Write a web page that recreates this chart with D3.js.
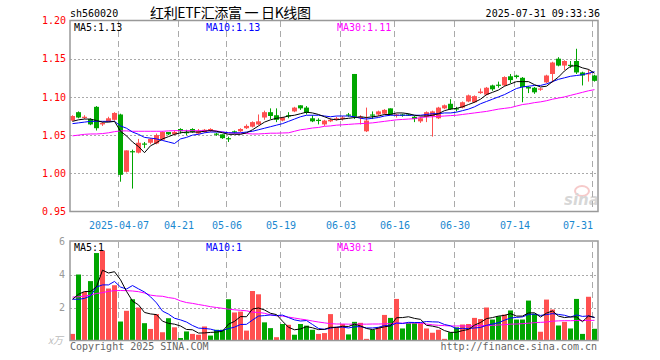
<!DOCTYPE html>
<html><head><meta charset="utf-8">
<script src="https://cdn.jsdelivr.net/npm/d3@7/dist/d3.min.js"></script>
<style>body{margin:0;background:#fff}svg{display:block}</style>
</head><body><svg id="c" width="660" height="360"></svg>
<script>
const dates = ["03-25","03-26","03-27","03-28","03-31","04-01","04-02","04-03","04-07","04-08",
"04-09","04-10","04-11","04-14","04-15","04-16","04-17","04-18","04-21","04-22",
"04-23","04-24","04-25","04-28","04-29","04-30","05-06","05-07","05-08","05-09",
"05-12","05-13","05-14","05-15","05-16","05-19","05-20","05-21","05-22","05-23",
"05-26","05-27","05-28","05-29","05-30","06-03","06-04","06-05","06-06","06-09",
"06-10","06-11","06-12","06-13","06-16","06-17","06-18","06-19","06-20","06-23",
"06-24","06-25","06-26","06-27","06-30","07-01","07-02","07-03","07-04","07-07",
"07-08","07-09","07-10","07-11","07-14","07-15","07-16","07-17","07-18","07-21",
"07-22","07-23","07-24","07-25","07-28","07-29","07-30","07-31"];
const open = [1.069,1.080,1.073,1.071,1.087,1.064,1.068,1.070,1.077,1.002,
1.029,1.027,1.039,1.040,1.039,1.044,1.054,1.051,1.058,1.054,
1.058,1.052,1.054,1.056,1.052,1.051,1.046,1.055,1.055,1.059,
1.061,1.064,1.073,1.080,1.076,1.069,1.076,1.081,1.089,1.086,
1.072,1.070,1.064,1.068,1.071,1.071,1.077,1.130,1.073,1.055,
1.077,1.077,1.078,1.085,1.076,1.077,1.077,1.074,1.068,1.074,
1.075,1.072,1.085,1.091,1.085,1.086,1.094,1.093,1.105,1.103,
1.115,1.116,1.115,1.127,1.128,1.125,1.113,1.112,1.110,1.119,
1.130,1.150,1.141,1.142,1.147,1.132,1.130,1.128];
const high = [1.076,1.081,1.076,1.072,1.088,1.067,1.074,1.080,1.078,1.030,
1.031,1.045,1.041,1.046,1.052,1.055,1.054,1.056,1.059,1.057,
1.059,1.058,1.058,1.059,1.053,1.051,1.048,1.056,1.059,1.064,
1.068,1.077,1.082,1.085,1.085,1.074,1.080,1.087,1.089,1.088,
1.076,1.072,1.070,1.072,1.074,1.075,1.079,1.130,1.076,1.086,
1.081,1.082,1.084,1.085,1.078,1.078,1.078,1.075,1.074,1.081,
1.082,1.087,1.090,1.097,1.087,1.094,1.103,1.102,1.111,1.113,
1.116,1.120,1.127,1.130,1.129,1.126,1.114,1.113,1.112,1.129,
1.146,1.152,1.148,1.147,1.163,1.133,1.136,1.129];
const low = [1.068,1.072,1.071,1.063,1.056,1.062,1.067,1.069,0.989,1.001,
0.980,1.026,1.033,1.038,1.038,1.043,1.050,1.050,1.052,1.050,
1.053,1.051,1.053,1.054,1.049,1.045,1.041,1.052,1.054,1.058,
1.060,1.063,1.070,1.071,1.067,1.068,1.072,1.080,1.083,1.077,
1.067,1.064,1.062,1.067,1.069,1.069,1.074,1.071,1.064,1.054,
1.071,1.075,1.077,1.076,1.073,1.074,1.075,1.067,1.066,1.067,
1.048,1.071,1.084,1.083,1.081,1.085,1.093,1.092,1.104,1.102,
1.108,1.112,1.114,1.118,1.124,1.093,1.105,1.104,1.108,1.118,
1.119,1.140,1.135,1.138,1.130,1.115,1.120,1.120];
const close = [1.075,1.073,1.074,1.064,1.059,1.066,1.072,1.079,0.998,1.030,
1.028,1.040,1.038,1.045,1.050,1.054,1.051,1.054,1.055,1.053,
1.054,1.055,1.057,1.058,1.051,1.046,1.045,1.054,1.058,1.062,
1.067,1.068,1.080,1.075,1.070,1.073,1.075,1.086,1.085,1.079,
1.068,1.069,1.069,1.070,1.072,1.073,1.076,1.074,1.074,1.069,
1.076,1.081,1.083,1.077,1.077,1.076,1.076,1.071,1.072,1.080,
1.081,1.086,1.089,1.084,1.084,1.093,1.102,1.101,1.107,1.112,
1.110,1.115,1.126,1.122,1.126,1.113,1.111,1.106,1.111,1.128,
1.145,1.141,1.147,1.141,1.132,1.128,1.131,1.121];
const ma5 = [1.068,1.070,1.071,1.071,1.069,1.067,1.067,1.068,1.055,1.049,
1.041,1.035,1.027,1.036,1.040,1.045,1.048,1.051,1.053,1.054,
1.054,1.054,1.055,1.056,1.055,1.053,1.051,1.051,1.051,1.053,
1.057,1.062,1.067,1.070,1.072,1.073,1.075,1.076,1.078,1.080,
1.079,1.077,1.074,1.071,1.070,1.071,1.072,1.073,1.074,1.073,
1.074,1.075,1.077,1.077,1.079,1.079,1.078,1.076,1.075,1.075,
1.076,1.078,1.082,1.084,1.085,1.087,1.090,1.093,1.097,1.103,
1.106,1.109,1.114,1.117,1.120,1.120,1.120,1.116,1.113,1.114,
1.120,1.126,1.134,1.140,1.141,1.138,1.136,1.131];
const ma10 = [1.065,1.066,1.067,1.068,1.068,1.068,1.068,1.068,1.062,1.059,
1.054,1.051,1.047,1.046,1.045,1.043,1.041,1.039,1.045,1.047,
1.050,1.051,1.053,1.054,1.054,1.054,1.053,1.053,1.053,1.054,
1.055,1.057,1.059,1.061,1.063,1.065,1.068,1.071,1.074,1.076,
1.076,1.076,1.075,1.074,1.075,1.075,1.075,1.074,1.072,1.071,
1.072,1.073,1.075,1.076,1.076,1.076,1.076,1.076,1.076,1.077,
1.078,1.078,1.079,1.079,1.080,1.082,1.084,1.087,1.091,1.094,
1.097,1.100,1.103,1.107,1.111,1.113,1.114,1.115,1.115,1.117,
1.120,1.123,1.125,1.127,1.128,1.129,1.131,1.133];
const ma30 = [1.049,1.050,1.051,1.0515,1.0515,1.052,1.053,1.0545,1.0555,1.0555,
1.055,1.055,1.055,1.055,1.055,1.055,1.0555,1.0558,1.0558,1.0558,
1.0558,1.0558,1.0558,1.0558,1.0555,1.054,1.053,1.0525,1.0525,1.052,
1.0515,1.0515,1.052,1.0525,1.0525,1.0528,1.053,1.055,1.057,1.058,
1.0593,1.060,1.0615,1.062,1.063,1.0635,1.064,1.0646,1.065,1.0655,
1.066,1.067,1.068,1.069,1.070,1.0705,1.071,1.0715,1.073,1.0737,
1.074,1.0745,1.075,1.0755,1.076,1.077,1.078,1.079,1.080,1.081,
1.0825,1.084,1.085,1.086,1.088,1.090,1.091,1.0925,1.0935,1.095,
1.097,1.0985,1.100,1.102,1.104,1.106,1.108,1.1095];
const volume = [0.4,4.0,2.95,3.6,5.3,5.45,3.15,3.35,1.15,1.8,
2.5,2.0,1.05,0.7,1.6,0.5,1.35,0.8,0.15,0.55,
0.4,0.35,0.85,0.3,0.65,0.65,2.5,1.7,1.75,0.6,
3.0,2.8,1.1,0.75,0.2,1.0,0.95,0.35,1.0,0.9,
0.65,0.4,0.45,1.6,0.83,1.0,0.37,1.13,1.07,0.1,
0.65,0.8,1.55,1.37,2.52,0.73,1.05,1.05,1.05,0.73,
0.47,0.65,0.1,0.5,0.8,0.97,1.0,1.37,1.3,2.0,
1.27,1.47,1.57,1.82,1.27,1.27,2.42,1.62,0.53,2.48,
1.88,0.91,1.13,0.73,2.52,0.4,2.65,0.71];
// colour of each volume bar as seen: 1 = red (up), 0 = green (down)
const volUp = [1,0,1,0,0,1,1,1,0,1,
0,1,0,1,1,1,0,1,0,0,
1,1,1,0,0,0,0,1,1,1,
1,1,0,0,1,0,1,0,0,0,
0,1,1,1,1,1,0,0,1,1,
0,1,1,0,1,0,0,0,1,1,
1,1,1,0,0,1,1,1,1,1,
0,0,1,0,0,0,0,0,1,1,
1,0,1,0,0,0,1,0];
const vma5 = [2.5,2.8,2.97,2.97,3.25,4.26,4.09,4.17,3.68,2.98,
2.39,2.16,1.70,1.61,1.57,1.17,1.04,0.99,0.88,0.67,
0.65,0.45,0.46,0.49,0.51,0.56,0.99,1.16,1.45,1.44,
1.91,1.97,1.85,1.65,1.57,1.17,0.80,0.65,0.70,0.84,
0.77,0.66,0.68,0.80,0.79,0.86,0.85,0.99,0.88,0.73,
0.66,0.75,0.83,0.89,1.38,1.39,1.44,1.34,1.28,0.92,
0.87,0.79,0.60,0.49,0.50,0.60,0.67,0.93,1.09,1.33,
1.39,1.48,1.52,1.63,1.48,1.48,1.67,1.68,1.42,1.66,
1.79,1.48,1.39,1.43,1.43,1.14,1.49,1.40];
const vma10 = [2.5,2.5,2.55,2.7,3.24,3.37,3.37,3.58,3.24,3.12,
3.33,3.13,2.94,2.65,2.28,1.78,1.60,1.35,1.25,1.12,
0.91,0.75,0.73,0.69,0.59,0.61,0.72,0.81,0.97,0.98,
1.24,1.48,1.51,1.55,1.51,1.54,1.39,1.25,1.18,1.21,
0.97,0.73,0.67,0.75,0.81,0.81,0.76,0.83,0.84,0.76,
0.76,0.80,0.91,0.89,1.06,1.03,1.10,1.09,1.09,1.15,
1.13,1.12,0.97,0.89,0.71,0.74,0.73,0.76,0.79,0.92,
1.00,1.08,1.23,1.36,1.40,1.43,1.58,1.60,1.52,1.57,
1.63,1.58,1.53,1.42,1.55,1.46,1.49,1.39];
const vma30 = [2.63,2.65,2.7,2.75,2.85,2.9,2.98,3.02,3.03,3.02,
3.0,2.96,2.88,2.75,2.7,2.68,2.6,2.55,2.4,2.3,
2.25,2.18,2.12,2.05,2.0,1.95,1.9,1.86,1.83,1.8,
1.72,1.7,1.65,1.55,1.5,1.48,1.42,1.36,1.3,1.25,
1.18,1.12,1.07,1.02,1.0,1.0,0.99,0.99,0.99,0.99,
1.0,1.0,1.01,1.02,1.05,1.05,1.06,1.06,1.05,1.0,
0.95,0.92,0.9,0.88,0.88,0.88,0.88,0.89,0.9,0.91,
0.92,0.94,0.96,0.99,1.0,1.02,1.05,1.08,1.1,1.12,
1.17,1.19,1.2,1.2,1.21,1.21,1.22,1.22];
const priceTicks = [1.20,1.15,1.10,1.05,1.00,0.95];
const volTicks = [6,4,2];
const dateTicks = ["04-07","04-21","05-06","05-19","06-03","06-16","06-30","07-14","07-31"];
const dateTickLabels = ["2025-04-07","04-21","05-06","05-19","06-03","06-16","06-30","07-14","07-31"];

const RED = "#ff5050", GREEN = "#00a600", GRID = "#aaaaaa", MONO = "'DejaVu Sans Mono', monospace";
const svg = d3.select("#c");
const x = d3.scaleBand().domain(dates).range([70, 598]).padding(0);
const y = d3.scaleLinear().domain([0.95, 1.20]).range([211.5, 20.5]);
const yv = d3.scaleLinear().domain([0, 6]).range([340.5, 241.5]);
const cx = d => x(d) + 2.5;

// header
svg.append("text").attr("x", 70).attr("y", 17).attr("font-family", MONO).attr("font-size", 10).text("sh560020");
svg.append("text").attr("x", 150).attr("y", 18).attr("font-family", "'Noto Sans CJK SC', sans-serif").attr("font-size", 14)
  .attr("textLength", 161).attr("lengthAdjust", "spacing").style("white-space", "pre").text("红利ETF汇添富 一 日K线图");
svg.append("text").attr("x", 600).attr("y", 17).attr("text-anchor", "end").attr("font-family", MONO).attr("font-size", 10).text("2025-07-31 09:33:36");

// price panel grid
const gP = svg.append("g");
gP.selectAll("line.h").data(priceTicks.slice(1, -1)).join("line")
  .attr("x1", 70).attr("x2", 598).attr("y1", d => Math.round(y(d)) + 0.5).attr("y2", d => Math.round(y(d)) + 0.5)
  .attr("stroke", GRID).attr("stroke-dasharray", "2,2");
gP.selectAll("line.v").data(dateTicks).join("line")
  .attr("x1", d => x(d) + 0.5).attr("x2", d => x(d) + 0.5).attr("y1", 21).attr("y2", 211)
  .attr("stroke", GRID).attr("stroke-dasharray", "6,4");
const axP = svg.append("g").attr("transform", "translate(70,0)")
  .call(d3.axisLeft(y).tickValues(priceTicks).tickFormat(d3.format(".2f")).tickSize(0).tickPadding(4));
axP.select(".domain").remove();
axP.selectAll("text").attr("fill", "#ff0000").attr("font-family", MONO).attr("font-size", 10);

// date axis
const axD = svg.append("g").attr("transform", "translate(0,211)")
  .call(d3.axisBottom(x).tickValues(dateTicks).tickFormat((d, i) => dateTickLabels[i]).tickSize(0).tickPadding(11));
axD.select(".domain").remove();
axD.selectAll("text").attr("fill", "#1a88d0").attr("font-family", MONO).attr("font-size", 10).attr("dx", -2);
axD.selectAll(".tick").filter(d => d === dateTicks[dateTicks.length - 1]).select("text")
  .attr("text-anchor", "end").attr("dx", -2);

// candles
const idx = d3.range(dates.length);
const gC = svg.append("g");
gC.selectAll("line.w").data(idx).join("line")
  .attr("x1", i => cx(dates[i])).attr("x2", i => cx(dates[i]))
  .attr("y1", i => y(high[i])).attr("y2", i => y(low[i]))
  .attr("stroke", i => close[i] >= open[i] ? RED : GREEN).attr("stroke-width", 1);
gC.selectAll("rect").data(idx).join("rect")
  .attr("x", i => x(dates[i])).attr("width", 5)
  .attr("y", i => y(Math.max(open[i], close[i])))
  .attr("height", i => Math.max(1.2, y(Math.min(open[i], close[i])) - y(Math.max(open[i], close[i]))))
  .attr("fill", i => close[i] >= open[i] ? RED : GREEN);

// MA lines price
const lineP = arr => d3.line().x((d, i) => cx(dates[i])).y(d => y(d))(arr);
[[ma30, "#ff00ff"], [ma10, "#0000ff"], [ma5, "#000000"]].forEach(([a, c]) =>
  svg.append("path").attr("d", lineP(a)).attr("fill", "none").attr("stroke", c).attr("stroke-width", 1));

// price border
svg.append("rect").attr("x", 70).attr("y", 20.5).attr("width", 528).attr("height", 191)
  .attr("fill", "none").attr("stroke", "#999").attr("stroke-width", 1.5);

// legend price
const leg = [["MA5:1.13", "#000", 74], ["MA10:1.13", "#0000ff", 206], ["MA30:1.11", "#ff00ff", 337]];
leg.forEach(([t, c, lx]) => svg.append("text").attr("x", lx).attr("y", 31).attr("fill", c).attr("font-family", MONO).attr("font-size", 10).text(t));

// sina watermark
const wm = svg.append("g").attr("opacity", 0.55);
wm.append("ellipse").attr("cx", 582).attr("cy", 191).attr("rx", 7).attr("ry", 5).attr("fill", "none").attr("stroke", "#f0a0a0").attr("stroke-width", 2);
wm.append("text").attr("x", 564).attr("y", 205).attr("font-family", "'DejaVu Sans', sans-serif").attr("font-style", "italic").attr("font-weight", "bold").attr("font-size", 15).attr("fill", "#b8b8b8").text("sina");

// volume panel
const gV = svg.append("g");
gV.selectAll("line.h").data([4, 2]).join("line")
  .attr("x1", 70).attr("x2", 598).attr("y1", d => Math.round(yv(d)) + 0.5).attr("y2", d => Math.round(yv(d)) + 0.5)
  .attr("stroke", GRID).attr("stroke-dasharray", "2,2");
gV.selectAll("line.v").data(dateTicks).join("line")
  .attr("x1", d => x(d) + 0.5).attr("x2", d => x(d) + 0.5).attr("y1", 242).attr("y2", 340)
  .attr("stroke", GRID).attr("stroke-dasharray", "6,4");
gV.selectAll("rect").data(idx).join("rect")
  .attr("x", i => x(dates[i])).attr("width", 5)
  .attr("y", i => yv(volume[i])).attr("height", i => yv(0) - yv(volume[i]))
  .attr("fill", i => volUp[i] ? RED : GREEN);
const lineV = arr => d3.line().x((d, i) => cx(dates[i])).y(d => yv(d))(arr);
[[vma30, "#ff00ff"], [vma10, "#0000ff"], [vma5, "#000000"]].forEach(([a, c]) =>
  svg.append("path").attr("d", lineV(a)).attr("fill", "none").attr("stroke", c).attr("stroke-width", 1));
svg.append("rect").attr("x", 70).attr("y", 241).attr("width", 528).attr("height", 99.5)
  .attr("fill", "none").attr("stroke", "#999").attr("stroke-width", 1.5);
const axV = svg.append("g").attr("transform", "translate(70,0)")
  .call(d3.axisLeft(yv).tickValues(volTicks).tickFormat(d3.format("d")).tickSize(0).tickPadding(5));
axV.select(".domain").remove();
axV.selectAll("text").attr("fill", "#999").attr("font-family", MONO).attr("font-size", 10);
const vleg = [["MA5:1", "#000", 74], ["MA10:1", "#0000ff", 206], ["MA30:1", "#ff00ff", 337]];
vleg.forEach(([t, c, lx]) => svg.append("text").attr("x", lx).attr("y", 251).attr("fill", c).attr("font-family", MONO).attr("font-size", 10).text(t));
svg.append("text").attr("x", 48).attr("y", 344).attr("fill", "#bbb").attr("font-family", "'Noto Sans CJK SC', sans-serif").attr("font-style", "italic").attr("font-size", 10).text("x万");
svg.append("text").attr("x", 70).attr("y", 350).attr("fill", "#666").attr("font-family", MONO).attr("font-size", 10).text("Copyright 2025 SINA.COM");
svg.append("text").attr("x", 597).attr("y", 350).attr("text-anchor", "end").attr("fill", "#666").attr("font-family", MONO).attr("font-size", 10).text("http://finance.sina.com.cn");
</script></body></html>
